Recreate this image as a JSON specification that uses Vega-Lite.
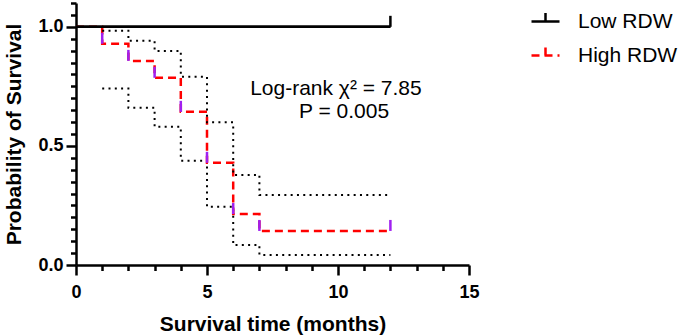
{
  "$schema": "https://vega.github.io/schema/vega-lite/v6.json",
  "width": 393,
  "height": 262,
  "autosize": "none",
  "padding": {"left": 76, "top": 3, "right": 209, "bottom": 71},
  "background": "white",
  "config": {
    "view": {"stroke": null},
    "font": "Liberation Sans",
    "axis": {"grid": false, "domainColor": "black", "tickColor": "black", "domainWidth": 2.5, "tickWidth": 2.5, "labelColor": "black", "titleColor": "black", "labelFont": "Liberation Sans", "titleFont": "Liberation Sans"}
  },
  "datasets": {
    "surv": [
      {"group": "High RDW", "t": 0, "p": 1.0},
      {"group": "High RDW", "t": 1, "p": 0.929},
      {"group": "High RDW", "t": 2, "p": 0.857},
      {"group": "High RDW", "t": 3, "p": 0.786},
      {"group": "High RDW", "t": 4, "p": 0.643},
      {"group": "High RDW", "t": 5, "p": 0.429},
      {"group": "High RDW", "t": 6, "p": 0.214},
      {"group": "High RDW", "t": 7, "p": 0.143},
      {"group": "High RDW", "t": 12, "p": 0.143},
      {"group": "Low RDW", "t": 0, "p": 1.0},
      {"group": "Low RDW", "t": 12, "p": 1.0}
    ],
    "ci": [
      {"bound": "upper", "t": 1, "p": 0.984},
      {"bound": "upper", "t": 2, "p": 0.941},
      {"bound": "upper", "t": 3, "p": 0.899},
      {"bound": "upper", "t": 4, "p": 0.790},
      {"bound": "upper", "t": 5, "p": 0.599},
      {"bound": "upper", "t": 6, "p": 0.378},
      {"bound": "upper", "t": 7, "p": 0.294},
      {"bound": "upper", "t": 12, "p": 0.294},
      {"bound": "lower", "t": 1, "p": 0.741},
      {"bound": "lower", "t": 2, "p": 0.660},
      {"bound": "lower", "t": 3, "p": 0.580},
      {"bound": "lower", "t": 4, "p": 0.438},
      {"bound": "lower", "t": 5, "p": 0.245},
      {"bound": "lower", "t": 6, "p": 0.084},
      {"bound": "lower", "t": 7, "p": 0.042},
      {"bound": "lower", "t": 12, "p": 0.042}
    ],
    "censor": [
      {"group": "High RDW", "t": 1, "p": 0.929},
      {"group": "High RDW", "t": 2, "p": 0.857},
      {"group": "High RDW", "t": 3, "p": 0.786},
      {"group": "High RDW", "t": 4, "p": 0.643},
      {"group": "High RDW", "t": 5, "p": 0.429},
      {"group": "High RDW", "t": 6, "p": 0.214},
      {"group": "High RDW", "t": 7, "p": 0.143},
      {"group": "High RDW", "t": 12, "p": 0.143},
      {"group": "Low RDW", "t": 12, "p": 1.0}
    ],
    "notes": [
      {"t": 9.92, "p": 0.713, "label": "Log-rank χ² = 7.85"},
      {"t": 10.23, "p": 0.617, "label": "P = 0.005"}
    ]
  },
  "layer": [
    {
      "data": {"name": "surv"},
      "mark": {"type": "line", "interpolate": "step-after", "strokeWidth": 2.5},
      "encoding": {
        "x": {"field": "t", "type": "quantitative", "scale": {"domain": [0, 15], "nice": false, "zero": false},
          "axis": {"orient": "bottom", "domain": true, "tickCount": 200, "values": [0,1,2,3,4,5,6,7,8,9,10,11,12,13,14,15], "format": "d",
            "labelExpr": "indexof(['0','5','10','15'], datum.label) >= 0 ? datum.label : ''", "labelOverlap": false, "labelFlush": false,
            "tickSize": {"condition": {"test": "indexof(['0','5','10','15'], datum.label) >= 0", "value": 10}, "value": 5.5},
            "labelFontSize": 18,
            "labelFontWeight": "bold", "labelPadding": 8, "title": "Survival time (months)", "titleFontSize": 21, "titleFontWeight": "bold", "titlePadding": 12}},
        "y": {"field": "p", "type": "quantitative", "scale": {"domain": [0, 1.1], "nice": false, "zero": false},
          "axis": {"orient": "left", "domain": true, "tickCount": 200, "values": [0,0.05,0.1,0.15,0.2,0.25,0.3,0.35,0.4,0.45,0.5,0.55,0.6,0.65,0.7,0.75,0.8,0.85,0.9,0.95,1.0,1.05,1.1],
            "format": ".2f", "labelOverlap": false, "labelFlush": false,
            "labelExpr": "indexof(['0.00','0.50','1.00'], datum.label) >= 0 ? slice(datum.label, 0, 3) : ''",
            "tickSize": {"condition": {"test": "indexof(['0.00','0.50','1.00'], datum.label) >= 0", "value": 10}, "value": 5.5},
            "labelFontSize": 18,
            "labelFontWeight": "bold", "labelPadding": 3, "title": "Probability of Survival", "titleFontSize": 21, "titleFontWeight": "bold", "titlePadding": 13}},
        "color": {"field": "group", "type": "nominal", "scale": {"domain": ["Low RDW", "High RDW"], "range": ["black", "#ff0000"]},
          "legend": {"orient": "none", "legendX": 454, "legendY": 3, "title": null, "padding": 0, "symbolType": "M-1,0H1M0,0V-0.6", "symbolSize": 784, "symbolStrokeWidth": 2.5, "labelFontSize": 21, "labelFont": "Liberation Sans", "labelColor": "black", "labelOffset": 17, "rowPadding": 8}},
        "strokeDash": {"field": "group", "type": "nominal", "scale": {"domain": ["Low RDW", "High RDW"], "range": [[1, 0], [8, 5]]}},
        "order": {"field": "t", "type": "quantitative"}
      }
    },
    {
      "data": {"name": "ci"},
      "mark": {"type": "line", "interpolate": "step-after", "color": "black", "strokeWidth": 2, "strokeDash": [2, 4.3]},
      "encoding": {
        "x": {"field": "t", "type": "quantitative"},
        "y": {"field": "p", "type": "quantitative"},
        "detail": {"field": "bound"}
      }
    },
    {
      "data": {"name": "surv"},
      "transform": [{"filter": "datum.group == 'Low RDW'"}],
      "mark": {"type": "line", "strokeWidth": 2.5, "color": "black"},
      "encoding": {
        "x": {"field": "t", "type": "quantitative"},
        "y": {"field": "p", "type": "quantitative"}
      }
    },
    {
      "data": {"name": "censor"},
      "transform": [{"filter": "datum.group == 'High RDW'"}],
      "mark": {"type": "tick", "orient": "vertical", "size": 11, "thickness": 2.5, "yOffset": -5.5, "color": "#a020f0", "opacity": 1},
      "encoding": {
        "x": {"field": "t", "type": "quantitative"},
        "y": {"field": "p", "type": "quantitative"}
      }
    },
    {
      "data": {"name": "censor"},
      "transform": [{"filter": "datum.group == 'Low RDW'"}],
      "mark": {"type": "tick", "orient": "vertical", "size": 11, "thickness": 2.5, "yOffset": -5.5, "color": "black", "opacity": 1},
      "encoding": {
        "x": {"field": "t", "type": "quantitative"},
        "y": {"field": "p", "type": "quantitative"}
      }
    },
    {
      "data": {"name": "notes"},
      "mark": {"type": "text", "align": "center", "baseline": "alphabetic", "fontSize": 21, "font": "Liberation Sans", "color": "black"},
      "encoding": {
        "x": {"field": "t", "type": "quantitative"},
        "y": {"field": "p", "type": "quantitative"},
        "text": {"field": "label"}
      }
    }
  ]
}
